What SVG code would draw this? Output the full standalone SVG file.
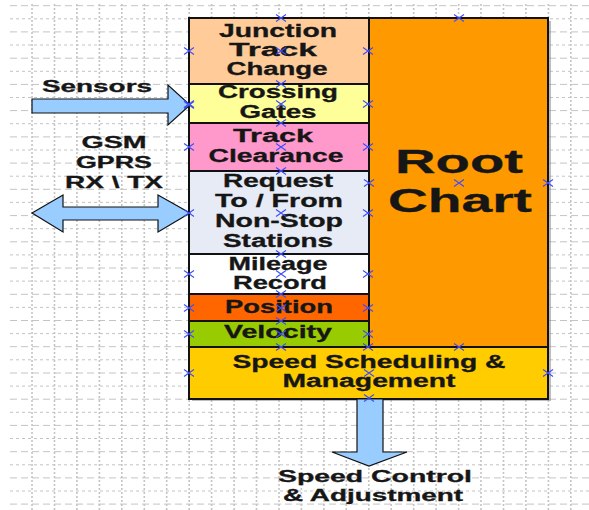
<svg xmlns="http://www.w3.org/2000/svg" width="589" height="510" viewBox="0 0 589 510">
<style>
.gh{stroke:#c4c4c4;stroke-width:1;fill:none}
.gh.a{stroke-dasharray:7,4}
.gh.b{stroke-dasharray:3,3}
.gv{stroke:#c4c4c4;stroke-width:1.6;stroke-dasharray:2,2;fill:none}
.box{stroke:#111;stroke-width:2}
.t{font-family:"Liberation Sans",Arial,sans-serif;font-weight:bold;fill:#161616;stroke:#161616;stroke-width:0.3;text-anchor:middle}
.s17{font-size:17.5px}
.s16{font-size:16.5px}
.s34{font-size:34px}
.arr{fill:#99CCFF;stroke:#111;stroke-width:1.2}
.mk{stroke:#3b4dff;stroke-width:1.1;fill:none}
</style>
<defs>
<path id="x" d="M-5,-3.5L5,3.5M-5,3.5L5,-3.5"/>
</defs>
<rect width="589" height="510" fill="#fff"/>
<g id="grid">
<path class="gh a" d="M10,5.7H589M10,31.9H589M10,58.2H589M10,84.4H589M10,110.6H589M10,136.9H589M10,163.1H589M10,189.3H589M10,215.6H589M10,241.8H589M10,268H589M10,294.3H589M10,320.5H589M10,346.7H589M10,373H589M10,399.2H589M10,425.4H589M10,451.7H589M10,477.9H589M10,504.1H589"/>
<path class="gh b" d="M10,18.8H589M10,45H589M10,71.3H589M10,97.5H589M10,123.7H589M10,150H589M10,176.2H589M10,202.4H589M10,228.7H589M10,254.9H589M10,281.1H589M10,307.4H589M10,333.6H589M10,359.8H589M10,386.1H589M10,412.3H589M10,438.5H589M10,464.8H589M10,491H589"/>
<path class="gv" d="M32,4V510M54.5,4V510M76.9,4V510M99.4,4V510M121.8,4V510M144.3,4V510M166.7,4V510M189.2,4V510M211.6,4V510M234.1,4V510M256.5,4V510M279,4V510M301.4,4V510M323.9,4V510M346.3,4V510M368.8,4V510M391.2,4V510M413.7,4V510M436.1,4V510M458.6,4V510M481,4V510M503.5,4V510M525.9,4V510M548.4,4V510M570.8,4V510"/>
</g>
<rect x="192" y="21" width="359" height="380" fill="#888" opacity="0.55"/>
<g id="root-chart">
<rect class="box" x="369" y="18" width="179" height="329" fill="#FF9900"/>
<text class="t s34" x="459" y="173" textLength="128" lengthAdjust="spacingAndGlyphs">Root</text>
<text class="t s34" x="460" y="212" textLength="144" lengthAdjust="spacingAndGlyphs">Chart</text>
</g>
<g id="junction-track-change">
<rect class="box" x="189" y="18" width="180" height="66" fill="#FFCC99"/>
<text class="t s17" x="278" y="37" textLength="118" lengthAdjust="spacingAndGlyphs">Junction</text>
<text class="t s17" x="273" y="56" textLength="88" lengthAdjust="spacingAndGlyphs">Track</text>
<text class="t s17" x="277" y="75" textLength="101" lengthAdjust="spacingAndGlyphs">Change</text>
</g>
<g id="crossing-gates">
<rect class="box" x="189" y="84" width="180" height="39" fill="#FFFF99"/>
<text class="t s17" x="278" y="98" textLength="120" lengthAdjust="spacingAndGlyphs">Crossing</text>
<text class="t s17" x="278" y="118" textLength="77" lengthAdjust="spacingAndGlyphs">Gates</text>
</g>
<g id="track-clearance">
<rect class="box" x="189" y="123" width="180" height="48" fill="#FF99CC"/>
<text class="t s17" x="273" y="142" textLength="80" lengthAdjust="spacingAndGlyphs">Track</text>
<text class="t s17" x="276" y="162" textLength="135" lengthAdjust="spacingAndGlyphs">Clearance</text>
</g>
<g id="request-stations">
<rect class="box" x="189" y="171" width="180" height="83" fill="#E6EBF5"/>
<text class="t s17" x="278" y="187" textLength="110" lengthAdjust="spacingAndGlyphs">Request</text>
<text class="t s17" x="279" y="207" textLength="128" lengthAdjust="spacingAndGlyphs">To / From</text>
<text class="t s17" x="279" y="227" textLength="128" lengthAdjust="spacingAndGlyphs">Non-Stop</text>
<text class="t s17" x="278" y="247" textLength="110" lengthAdjust="spacingAndGlyphs">Stations</text>
</g>
<g id="mileage-record">
<rect class="box" x="189" y="254" width="180" height="40" fill="#FFFFFF"/>
<text class="t s17" x="278" y="270" textLength="99" lengthAdjust="spacingAndGlyphs">Mileage</text>
<text class="t s17" x="280" y="289" textLength="94" lengthAdjust="spacingAndGlyphs">Record</text>
</g>
<g id="position">
<rect class="box" x="189" y="294" width="180" height="27" fill="#FF6600"/>
<text class="t s17" x="279" y="313" textLength="108" lengthAdjust="spacingAndGlyphs">Position</text>
</g>
<g id="velocity">
<rect class="box" x="189" y="321" width="180" height="26" fill="#99CC00"/>
<text class="t s17" x="278" y="338" textLength="108" lengthAdjust="spacingAndGlyphs">Velocity</text>
</g>
<g id="speed-scheduling">
<rect class="box" x="189" y="347" width="359" height="52" fill="#FFCC00"/>
<text class="t s17" x="369" y="368" textLength="273" lengthAdjust="spacingAndGlyphs">Speed Scheduling &amp;</text>
<text class="t s17" x="369" y="387" textLength="173" lengthAdjust="spacingAndGlyphs">Management</text>
</g>
<g id="connectors">
<polygon class="arr" points="32,99 168,99 168,85 190,105 168,125 168,113 32,113"/>
<polygon class="arr" points="32,213 63,195 63,207 158,207 158,195 190,213 158,232 158,220 63,220 63,232"/>
<polygon class="arr" points="357,399 383,399 383,452 407,452 369,466 332,452 357,452"/>
</g>
<g id="labels">
<text class="t s16" x="97" y="92" textLength="110" lengthAdjust="spacingAndGlyphs">Sensors</text>
<text class="t s16" x="114" y="148" textLength="65" lengthAdjust="spacingAndGlyphs">GSM</text>
<text class="t s16" x="114" y="168" textLength="76" lengthAdjust="spacingAndGlyphs">GPRS</text>
<text class="t s16" x="114" y="188" textLength="98" lengthAdjust="spacingAndGlyphs">RX \ TX</text>
<text class="t s16" x="375" y="482" textLength="194" lengthAdjust="spacingAndGlyphs">Speed Control</text>
<text class="t s16" x="373" y="501" textLength="180" lengthAdjust="spacingAndGlyphs">&amp; Adjustment</text>
</g>
<g id="connection-points" class="mk">
<use href="#x" x="459" y="18"/><use href="#x" x="459" y="183"/><use href="#x" x="548" y="183"/><use href="#x" x="369" y="183"/><use href="#x" x="459" y="347"/>
<use href="#x" x="281" y="18"/><use href="#x" x="189" y="51"/><use href="#x" x="281" y="51"/><use href="#x" x="368" y="51"/>
<use href="#x" x="281" y="84"/><use href="#x" x="189" y="104"/><use href="#x" x="281" y="104"/><use href="#x" x="368" y="104"/>
<use href="#x" x="281" y="123"/><use href="#x" x="189" y="147"/><use href="#x" x="281" y="147"/><use href="#x" x="368" y="147"/>
<use href="#x" x="281" y="171"/><use href="#x" x="189" y="213"/><use href="#x" x="281" y="213"/><use href="#x" x="368" y="213"/>
<use href="#x" x="281" y="254"/><use href="#x" x="189" y="274"/><use href="#x" x="281" y="274"/><use href="#x" x="368" y="274"/>
<use href="#x" x="281" y="294"/><use href="#x" x="189" y="308"/><use href="#x" x="281" y="308"/><use href="#x" x="368" y="308"/>
<use href="#x" x="281" y="321"/><use href="#x" x="189" y="334"/><use href="#x" x="281" y="334"/><use href="#x" x="368" y="334"/><use href="#x" x="281" y="347"/>
<use href="#x" x="368" y="347"/><use href="#x" x="189" y="373"/><use href="#x" x="369" y="373"/><use href="#x" x="548" y="373"/><use href="#x" x="369" y="398"/>
<use href="#x" x="189" y="105"/>
</g>
</svg>
